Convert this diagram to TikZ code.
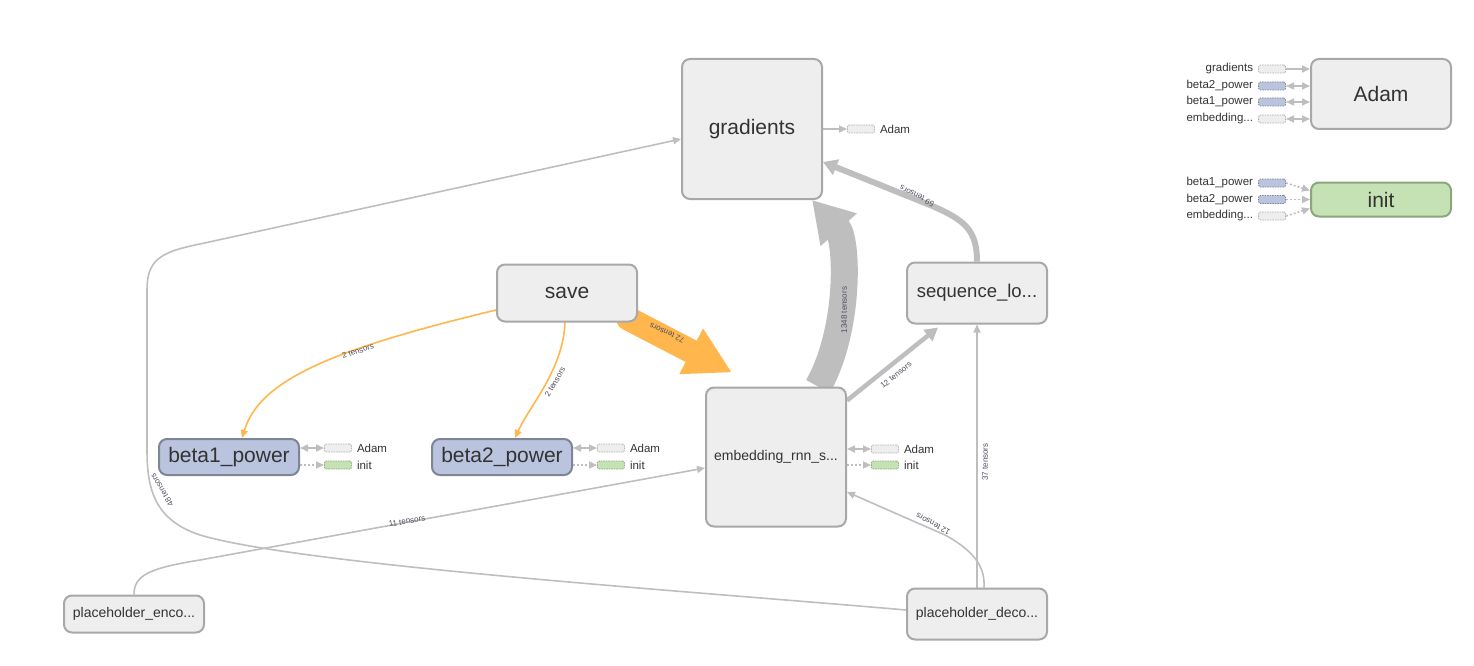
\documentclass[tikz,border=0pt]{standalone}
\usepackage{fontspec}
\setmainfont{Liberation Sans}
\usetikzlibrary{positioning,arrows.meta,backgrounds}

\definecolor{opfill}{RGB}{238,238,238}
\definecolor{opline}{RGB}{168,168,168}
\definecolor{optext}{RGB}{51,51,51}
\definecolor{varfill}{RGB}{186,196,222}
\definecolor{varline}{RGB}{125,133,150}
\definecolor{initfill}{RGB}{197,226,180}
\definecolor{initline}{RGB}{140,165,125}
\definecolor{edgegrey}{RGB}{190,190,190}
\definecolor{tileline}{RGB}{175,175,175}
\definecolor{saveorange}{RGB}{255,183,77}
\definecolor{lbltext}{RGB}{80,80,95}

\tikzset{
    opnode/.style={rectangle, rounded corners=8pt, draw=opline, fill=opfill, line width=2pt,
        text=optext, inner sep=0pt, minimum width=140pt, font=\fontsize{21}{24}\selectfont},
    varnode/.style={opnode, draw=varline, fill=varfill},
    initnode/.style={opnode, draw=initline, fill=initfill},
    smallop/.style={opnode, font=\fontsize{14}{17}\selectfont},
    tile/.style={rectangle, rounded corners=2pt, draw=tileline, fill=opfill, line width=0.8pt,
        dash pattern=on 1.5pt off 1pt, minimum width=27pt, minimum height=8pt, inner sep=0pt},
    vartile/.style={tile, draw=varline, fill=varfill},
    inittile/.style={tile, draw=initline, fill=initfill},
    tlabel/.style={font=\fontsize{11.5}{13}\selectfont, text=optext, inner sep=0pt},
    elabel/.style={font=\fontsize{8}{9}\selectfont, text=lbltext, inner sep=0pt},
    edge/.style={draw=edgegrey, line width=1.6pt},
    refedge/.style={edge, dash pattern=on 2pt off 2pt},
    saveedge/.style={draw=saveorange, line width=1.6pt}
}

\begin{document}
\begin{tikzpicture}[
                            x=1pt, y=-1pt,
                            >={Triangle[length=8pt,width=7pt]}
                        ]
                        \useasboundingbox (0,0) rectangle (1474,666);
                        % Blocks
                        \node [opnode, minimum height=140pt] (gradients) at (752,129) {gradients};
                        \node [opnode, minimum height=70pt] (adam) at (1381,94) {Adam};
                        \node [initnode, minimum height=34pt] (init) at (1381,199.5) {init};
                        \node [opnode, minimum height=57pt] (save) at (567,293) {save};
                        \node [opnode, minimum height=61pt, font=\fontsize{18.5}{21}\selectfont] (seqloss) at (977,293) {sequence\_lo...};
                        \node [smallop, minimum height=139pt] (embrnn) at (776,457) {embedding\_rnn\_s...};
                        \node [varnode, minimum height=36pt] (beta1) at (229,457) {beta1\_power};
                        \node [varnode, minimum height=36pt] (beta2) at (502,457) {beta2\_power};
                        \node [smallop, minimum height=37pt] (phenc) at (134,614) {placeholder\_enco...};
                        \node [smallop, minimum height=51pt] (phdec) at (977,614) {placeholder\_deco...};

                        % Auxiliary tiles
                        \node [tile, right=24pt of gradients.east] (gradadam) {};
                        \node [tlabel, right=5pt of gradadam] (gradadaml) {Adam};
                        \node [tile, right=24pt of beta1.east, yshift=9pt] (b1adam) {};
                        \node [inittile, right=24pt of beta1.east, yshift=-8pt] (b1init) {};
                        \node [tlabel, right=5pt of b1adam] (b1adaml) {Adam};
                        \node [tlabel, right=5pt of b1init] (b1initl) {init};
                        \node [tile, right=24pt of beta2.east, yshift=9pt] (b2adam) {};
                        \node [inittile, right=24pt of beta2.east, yshift=-8pt] (b2init) {};
                        \node [tlabel, right=5pt of b2adam] (b2adaml) {Adam};
                        \node [tlabel, right=5pt of b2init] (b2initl) {init};
                        \node [tile, right=24pt of embrnn.east, yshift=8pt] (embadam) {};
                        \node [inittile, right=24pt of embrnn.east, yshift=-8pt] (embinit) {};
                        \node [tlabel, right=5pt of embadam] (embadaml) {Adam};
                        \node [tlabel, right=5pt of embinit] (embinitl) {init};

                        % Legend tiles of Adam and init
                        \node [tile, left=24pt of adam.west, yshift=25pt] (agrad) {};
                        \node [vartile, left=24pt of adam.west, yshift=8pt] (abeta2) {};
                        \node [vartile, left=24pt of adam.west, yshift=-8pt] (abeta1) {};
                        \node [tile, left=24pt of adam.west, yshift=-25pt] (aemb) {};
                        \node [tlabel, left=5pt of agrad] (agradl) {gradients};
                        \node [tlabel, left=5pt of abeta2] (abeta2l) {beta2\_power};
                        \node [tlabel, left=5pt of abeta1] (abeta1l) {beta1\_power};
                        \node [tlabel, left=5pt of aemb] (aembl) {embedding...};
                        \node [vartile, left=24pt of init.west, yshift=16.5pt] (ibeta1) {};
                        \node [vartile, left=24pt of init.west] (ibeta2) {};
                        \node [tile, left=24pt of init.west, yshift=-16.5pt] (iemb) {};
                        \node [tlabel, left=5pt of ibeta1] (ibeta1l) {beta1\_power};
                        \node [tlabel, left=5pt of ibeta2] (ibeta2l) {beta2\_power};
                        \node [tlabel, left=5pt of iemb] (ieml) {embedding...};

                        % Connections
                        \begin{scope}[on background layer]
                        \draw [draw=saveorange, line width=24pt, line cap=round, -{Triangle[length=46pt,width=48pt]}]
                            ([xshift=-10pt,yshift=4pt]save.south east) -- ([xshift=27pt,yshift=14pt]embrnn.north west);
                        \draw [draw=edgegrey, line width=27pt, -{Triangle[length=40pt,width=46pt]}]
                            ([xshift=42pt]embrnn.north) .. controls (850,330) and (848,240) .. ([xshift=60pt]gradients.south);
                        \draw [draw=edgegrey, line width=6pt, -{Triangle[length=14pt,width=16pt]}]
                            (seqloss.north) .. controls (977,230) and (965,220) .. (930,205) -- ([yshift=-33pt]gradients.east);
                        \draw [draw=edgegrey, line width=4.5pt, -{Triangle[length=13pt,width=14pt]}]
                            ([yshift=-14pt]embrnn.north east) -- ([xshift=-39pt,yshift=-3pt]seqloss.south);
                        \draw [edge,->] (phdec.north) -- (seqloss.south);
                        \draw [edge,->] ([xshift=7pt]phdec.north) .. controls (985,570) and (978,553) .. (945,535) -- ([yshift=-35pt]embrnn.east);
                        \draw [edge,->] (phenc.north) .. controls (134,575) and (150,568) .. (200,560) -- ([yshift=-11pt]embrnn.west);
                        \draw [edge,->] ([yshift=4pt]phdec.west) .. controls (700,592) and (300,565) .. (200,535)
                            .. controls (155,520) and (147,490) .. (147,450) -- (147,290)
                            .. controls (147,260) and (160,252) .. (200,244) -- ([yshift=-10pt]gradients.west);
                        \draw [saveedge,->] ([yshift=-17pt]save.west) .. controls (330,350) and (260,380) .. ([xshift=13pt]beta1.north);
                        \draw [saveedge,->] ([xshift=-2pt]save.south) .. controls (563,370) and (530,405) .. ([xshift=13pt]beta2.north);

                        \draw [edge,->] (gradients.east) -- (gradadam.west);
                        \draw [edge,<->] (beta1.east |- b1adam) -- (b1adam.west);
                        \draw [refedge,->] (beta1.east |- b1init) -- (b1init.west);
                        \draw [edge,<->] (beta2.east |- b2adam) -- (b2adam.west);
                        \draw [refedge,->] (beta2.east |- b2init) -- (b2init.west);
                        \draw [edge,<->] (embrnn.east |- embadam) -- (embadam.west);
                        \draw [refedge,->] (embrnn.east |- embinit) -- (embinit.west);

                        \draw [edge,->] (agrad.east) -- (agrad.east -| adam.west);
                        \draw [edge,<->] (abeta2.east) -- (abeta2.east -| adam.west);
                        \draw [edge,<->] (abeta1.east) -- (abeta1.east -| adam.west);
                        \draw [edge,<->] (aemb.east) -- (aemb.east -| adam.west);
                        \draw [refedge,->] (ibeta1.east) -- ([yshift=9pt]init.west);
                        \draw [refedge,->] (ibeta2.east) -- (init.west);
                        \draw [refedge,->] (iemb.east) -- ([yshift=-9pt]init.west);
                        \end{scope}

                        % Edge labels
                        \node [elabel, rotate=155] (l72) at (667,333) {72 tensors};
                        \node [elabel, rotate=90] (l1348) at (844,310) {1348 tensors};
                        \node [elabel, rotate=153] (l59) at (917,196) {59 tensors};
                        \node [elabel, rotate=39] (l12a) at (896,375) {12 tensors};
                        \node [elabel, rotate=90] (l37) at (985,462) {37 tensors};
                        \node [elabel, rotate=152] (l12b) at (933,524) {12 tensors};
                        \node [elabel, rotate=10] (l11) at (407,521) {11 tensors};
                        \node [elabel, rotate=121] (l48) at (162,490) {48 tensors};
                        \node [elabel, rotate=18] (l2a) at (358,351) {2 tensors};
                        \node [elabel, rotate=60] (l2b) at (555,382) {2 tensors};
                    \end{tikzpicture}
\end{document}
